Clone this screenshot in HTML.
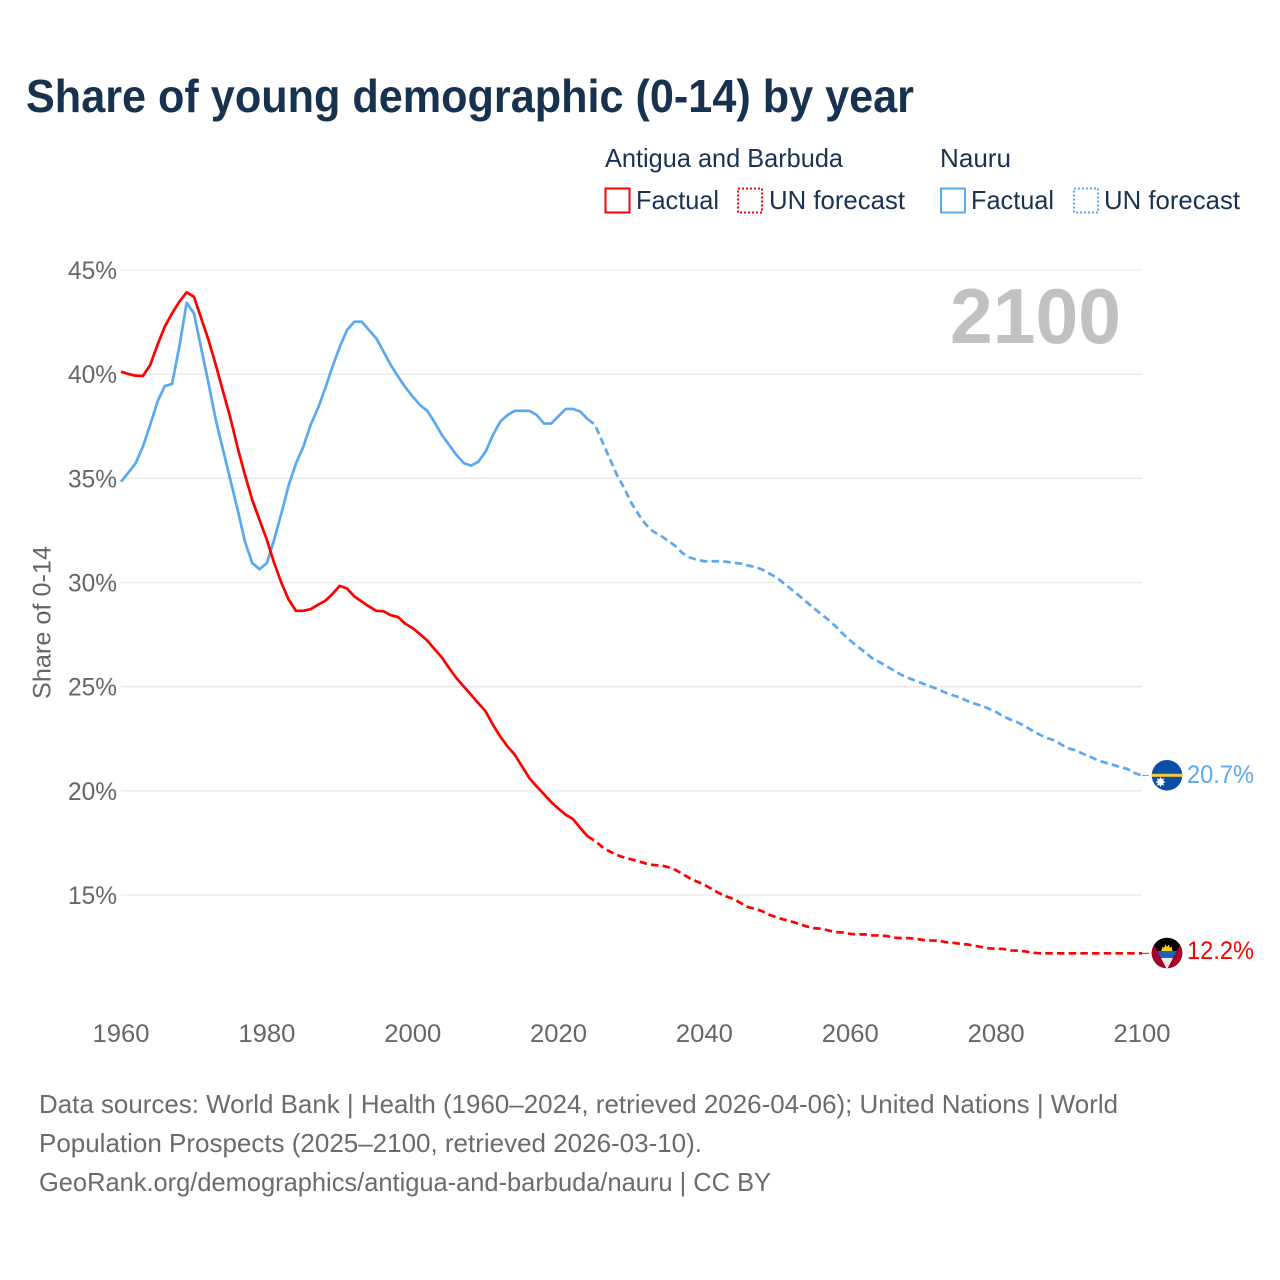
<!DOCTYPE html>
<html lang="en">
<head>
<meta charset="utf-8">
<title>Share of young demographic (0-14) by year</title>
<style>
  html, body { margin: 0; padding: 0; background: #ffffff; }
  svg { display: block; font-family: "Liberation Sans", sans-serif; }
</style>
</head>
<body>
<svg id="chart" xmlns="http://www.w3.org/2000/svg" width="1280" height="1280" viewBox="0 0 1280 1280">
  <defs>
    <clipPath id="nauru-clip"><circle cx="1167" cy="775.3" r="15.3"/></clipPath>
    <clipPath id="antigua-clip"><circle cx="1167" cy="953" r="15.3"/></clipPath>
  </defs>
  <rect width="1280" height="1280" fill="#ffffff"/>

  <text x="26" y="112" font-size="46" font-weight="700" fill="#17324f" textLength="888" lengthAdjust="spacingAndGlyphs">Share of young demographic (0-14) by year</text>

  <g fill="#1a3252" font-size="26">
    <text x="605" y="167" textLength="238" lengthAdjust="spacingAndGlyphs">Antigua and Barbuda</text>
    <text x="940" y="167" textLength="71" lengthAdjust="spacingAndGlyphs">Nauru</text>
    <rect x="605.5" y="188.5" width="24" height="24" fill="none" stroke="#ff0000" stroke-width="2"/>
    <text x="636" y="209" textLength="83" lengthAdjust="spacingAndGlyphs">Factual</text>
    <rect x="738" y="188.5" width="24" height="24" fill="none" stroke="#ff0000" stroke-width="2" stroke-dasharray="2 2"/>
    <text x="769" y="209" textLength="136" lengthAdjust="spacingAndGlyphs">UN forecast</text>
    <rect x="941" y="188.5" width="24" height="24" fill="none" stroke="#5aa9ee" stroke-width="2"/>
    <text x="971" y="209" textLength="83" lengthAdjust="spacingAndGlyphs">Factual</text>
    <rect x="1074" y="188.5" width="24" height="24" fill="none" stroke="#5aa9ee" stroke-width="2" stroke-dasharray="2 2"/>
    <text x="1104" y="209" textLength="136" lengthAdjust="spacingAndGlyphs">UN forecast</text>
  </g>

  <g id="grid"></g>
  <g id="y-ticks"></g>
  <g id="x-ticks"></g>

  <text transform="translate(50.5 699) rotate(-90)" font-size="25" fill="#666666" textLength="153" lengthAdjust="spacingAndGlyphs">Share of 0-14</text>

  <text x="950" y="343" font-size="78" font-weight="700" fill="#c1c1c1" textLength="171" lengthAdjust="spacingAndGlyphs">2100</text>

  <g id="series"></g>

  <g clip-path="url(#nauru-clip)">
    <rect x="1150" y="758" width="34" height="34" fill="#0a4ea8"/>
    <rect x="1150" y="773.8" width="34" height="3" fill="#ffc62e"/>
    <polygon points="1160.5,776.8 1161.6,779.3 1164.2,778.2 1163.1,780.8 1165.5,782 1163.1,783.2 1164.2,785.8 1161.6,784.7 1160.5,787.2 1159.4,784.7 1156.8,785.8 1157.9,783.2 1155.5,782 1157.9,780.8 1156.8,778.2 1159.4,779.3" fill="#ffffff"/>
  </g>
  <g clip-path="url(#antigua-clip)">
    <rect x="1150" y="936" width="34" height="34" fill="#000000"/>
    <polygon points="1161.5,951 1162.5,946.5 1164,948 1165.3,944.5 1167,947 1168.7,944.5 1170,948 1171.5,946.5 1172.5,951" fill="#fcd116"/>
    <rect x="1150" y="951" width="34" height="7" fill="#1f63b8"/>
    <rect x="1150" y="958" width="34" height="12" fill="#e9e9e9"/>
    <polygon points="1149,935 1167,969.5 1149,971" fill="#a4002a"/>
    <polygon points="1185,935 1167,969.5 1185,971" fill="#a4002a"/>
  </g>

  <text id="value-nauru" x="1187" y="783" font-size="25" fill="#5aa9ee" textLength="67" lengthAdjust="spacingAndGlyphs">20.7%</text>
  <text id="value-antigua" x="1187" y="959" font-size="25" fill="#ff0000" textLength="67" lengthAdjust="spacingAndGlyphs">12.2%</text>

  <g font-size="26" fill="#6b6b6b">
    <text x="39" y="1113" textLength="1079" lengthAdjust="spacingAndGlyphs">Data sources: World Bank | Health (1960–2024, retrieved 2026-04-06); United Nations | World</text>
    <text x="39" y="1152" textLength="663" lengthAdjust="spacingAndGlyphs">Population Prospects (2025–2100, retrieved 2026-03-10).</text>
    <text x="39" y="1191" textLength="732" lengthAdjust="spacingAndGlyphs">GeoRank.org/demographics/antigua-and-barbuda/nauru | CC BY</text>
  </g>
</svg>

<script>
const yTickValues = [45, 40, 35, 30, 25, 20, 15];
const yTickLabels = ["45%", "40%", "35%", "30%", "25%", "20%", "15%"];
const xTickValues = [1960, 1980, 2000, 2020, 2040, 2060, 2080, 2100];
const xTickLabels = ["1960", "1980", "2000", "2020", "2040", "2060", "2080", "2100"];

const factualStartYear = 1960;
const forecastStartYear = 2025;

const antiguaFactual = [
  40.12, 40.01, 39.93, 39.91, 40.44, 41.40, 42.28, 42.92, 43.48, 43.93,
  43.72, 42.68, 41.64, 40.44, 39.16, 37.90, 36.46, 35.16, 33.96, 33.00,
  32.05, 30.94, 29.98, 29.17, 28.64, 28.64, 28.72, 28.93, 29.12, 29.45,
  29.84, 29.71, 29.33, 29.09, 28.85, 28.64, 28.62, 28.43, 28.34, 28.02,
  27.81, 27.52, 27.21, 26.80, 26.40, 25.89, 25.41, 25.01, 24.61, 24.21,
  23.81, 23.17, 22.61, 22.13, 21.73, 21.17, 20.61, 20.21, 19.84, 19.46,
  19.14, 18.85, 18.64, 18.21, 17.81
];
const antiguaForecast = [
  17.60, 17.30, 17.09, 16.92, 16.80,
  16.71, 16.61, 16.51, 16.44, 16.42, 16.34, 16.21, 16.01, 15.80, 15.64,
  15.49, 15.29, 15.09, 14.93, 14.81, 14.61, 14.42, 14.33, 14.21, 14.04,
  13.91, 13.81, 13.72, 13.61, 13.49, 13.41, 13.38, 13.30, 13.22, 13.20,
  13.13, 13.11, 13.11, 13.06, 13.06, 13.03, 12.95, 12.93, 12.93, 12.90,
  12.84, 12.82, 12.81, 12.74, 12.71, 12.66, 12.63, 12.57, 12.50, 12.44,
  12.42, 12.41, 12.34, 12.33, 12.29, 12.23, 12.20, 12.20, 12.20, 12.20,
  12.20, 12.20, 12.20, 12.20, 12.20, 12.20, 12.20, 12.20, 12.20, 12.20, 12.20
];
const nauruFactual = [
  34.84, 35.27, 35.72, 36.52, 37.56, 38.68, 39.43, 39.53, 41.32, 43.43,
  42.92, 41.24, 39.56, 37.80, 36.36, 34.92, 33.48, 31.96, 30.93, 30.64,
  30.93, 32.05, 33.33, 34.68, 35.72, 36.52, 37.56, 38.36, 39.32, 40.36,
  41.32, 42.12, 42.52, 42.52, 42.12, 41.72, 41.08, 40.44, 39.88, 39.37,
  38.92, 38.52, 38.24, 37.69, 37.08, 36.60, 36.12, 35.73, 35.61, 35.80,
  36.28, 37.08, 37.72, 38.04, 38.24, 38.24, 38.24, 38.04, 37.63, 37.63,
  37.99, 38.33, 38.33, 38.20, 37.84
];
const nauruForecast = [
  37.56, 36.76, 35.96, 35.16, 34.53,
  33.81, 33.25, 32.77, 32.44, 32.25, 32.01, 31.76, 31.41, 31.20, 31.09,
  31.02, 31.02, 31.02, 31.00, 30.94, 30.91, 30.81, 30.74, 30.61, 30.41,
  30.21, 29.93, 29.65, 29.36, 29.06, 28.77, 28.48, 28.21, 27.89, 27.53,
  27.21, 26.93, 26.66, 26.37, 26.18, 25.97, 25.77, 25.57, 25.41, 25.28,
  25.14, 25.01, 24.88, 24.72, 24.59, 24.49, 24.32, 24.19, 24.08, 23.94,
  23.78, 23.57, 23.41, 23.28, 23.09, 22.88, 22.69, 22.53, 22.42, 22.21,
  22.03, 21.94, 21.76, 21.62, 21.46, 21.35, 21.25, 21.14, 21.05, 20.85, 20.74
];

const SVG_NS = "http://www.w3.org/2000/svg";
const xScale = year => 121 + (year - 1960) * (1142 - 121) / 140;
const yScale = value => 270 + (45 - value) * (895 - 270) / 30;

function pathFrom(startYear, values) {
  let d = "";
  values.forEach(function (v, i) {
    const cmd = (d === "") ? "M" : "L";
    d += cmd + xScale(startYear + i).toFixed(2) + " " + yScale(v).toFixed(2);
  });
  return d;
}

const gridGroup = document.getElementById("grid");
const yTickGroup = document.getElementById("y-ticks");
const xTickGroup = document.getElementById("x-ticks");
const seriesGroup = document.getElementById("series");

yTickValues.forEach(function (v, i) {
  const line = document.createElementNS(SVG_NS, "line");
  
  
  line.setAttribute("x1", xScale(1960));
  line.setAttribute("x2", xScale(2100));
  line.setAttribute("y1", yScale(v));
  line.setAttribute("y2", yScale(v));
  line.setAttribute("stroke", "#e9e9e9");
  line.setAttribute("stroke-width", "1.3");
  gridGroup.appendChild(line);

  const label = document.createElementNS(SVG_NS, "text");
  
  
  label.setAttribute("x", 68);
  label.setAttribute("y", yScale(v) + 9);
  label.setAttribute("font-size", "25");
  label.setAttribute("fill", "#666666");
  label.setAttribute("textLength", "49");
  label.setAttribute("lengthAdjust", "spacingAndGlyphs");
  label.textContent = yTickLabels[i];
  yTickGroup.appendChild(label);
});

xTickValues.forEach(function (v, i) {
  const label = document.createElementNS(SVG_NS, "text");
  
  
  label.setAttribute("x", xScale(v) - 28.5);
  label.setAttribute("y", 1042);
  label.setAttribute("font-size", "25");
  label.setAttribute("fill", "#666666");
  label.setAttribute("textLength", "57");
  label.setAttribute("lengthAdjust", "spacingAndGlyphs");
  label.textContent = xTickLabels[i];
  xTickGroup.appendChild(label);
});

function addForecast(color, factual, forecast, seriesName) {
  const lastFactualYear = factualStartYear + factual.length - 1;
  const joined = [factual[factual.length - 1]].concat(forecast);
  const p = document.createElementNS(SVG_NS, "path");
  
  
  p.setAttribute("d", pathFrom(lastFactualYear, joined));
  p.setAttribute("fill", "none");
  p.setAttribute("stroke", color);
  p.setAttribute("stroke-width", "2.7");
  p.setAttribute("stroke-dasharray", "7.5 4.2");
  p.setAttribute("stroke-linejoin", "round");
  seriesGroup.appendChild(p);
}

function addFactual(color, factual, seriesName) {
  const p = document.createElementNS(SVG_NS, "path");
  
  
  p.setAttribute("d", pathFrom(factualStartYear, factual));
  p.setAttribute("fill", "none");
  p.setAttribute("stroke", color);
  p.setAttribute("stroke-width", "2.7");
  p.setAttribute("stroke-linejoin", "round");
  seriesGroup.appendChild(p);
}

function addConnector(color, lastValue, connectorName) {
  const c = document.createElementNS(SVG_NS, "line");
  
  
  c.setAttribute("x1", xScale(2100));
  c.setAttribute("x2", 1152);
  c.setAttribute("y1", yScale(lastValue));
  c.setAttribute("y2", yScale(lastValue));
  c.setAttribute("stroke", color);
  c.setAttribute("stroke-width", "1");
  c.setAttribute("stroke-dasharray", "7 3");
  seriesGroup.appendChild(c);
}

addForecast("#5aa9ee", nauruFactual, nauruForecast, "line-nauru-forecast");
addFactual("#5aa9ee", nauruFactual, "line-nauru-factual");
addConnector("#5aa9ee", nauruForecast[nauruForecast.length - 1], "connector-nauru");
addForecast("#ff0000", antiguaFactual, antiguaForecast, "line-antigua-forecast");
addFactual("#ff0000", antiguaFactual, "line-antigua-factual");
addConnector("#ff0000", antiguaForecast[antiguaForecast.length - 1], "connector-antigua");
</script>
</body>
</html>
